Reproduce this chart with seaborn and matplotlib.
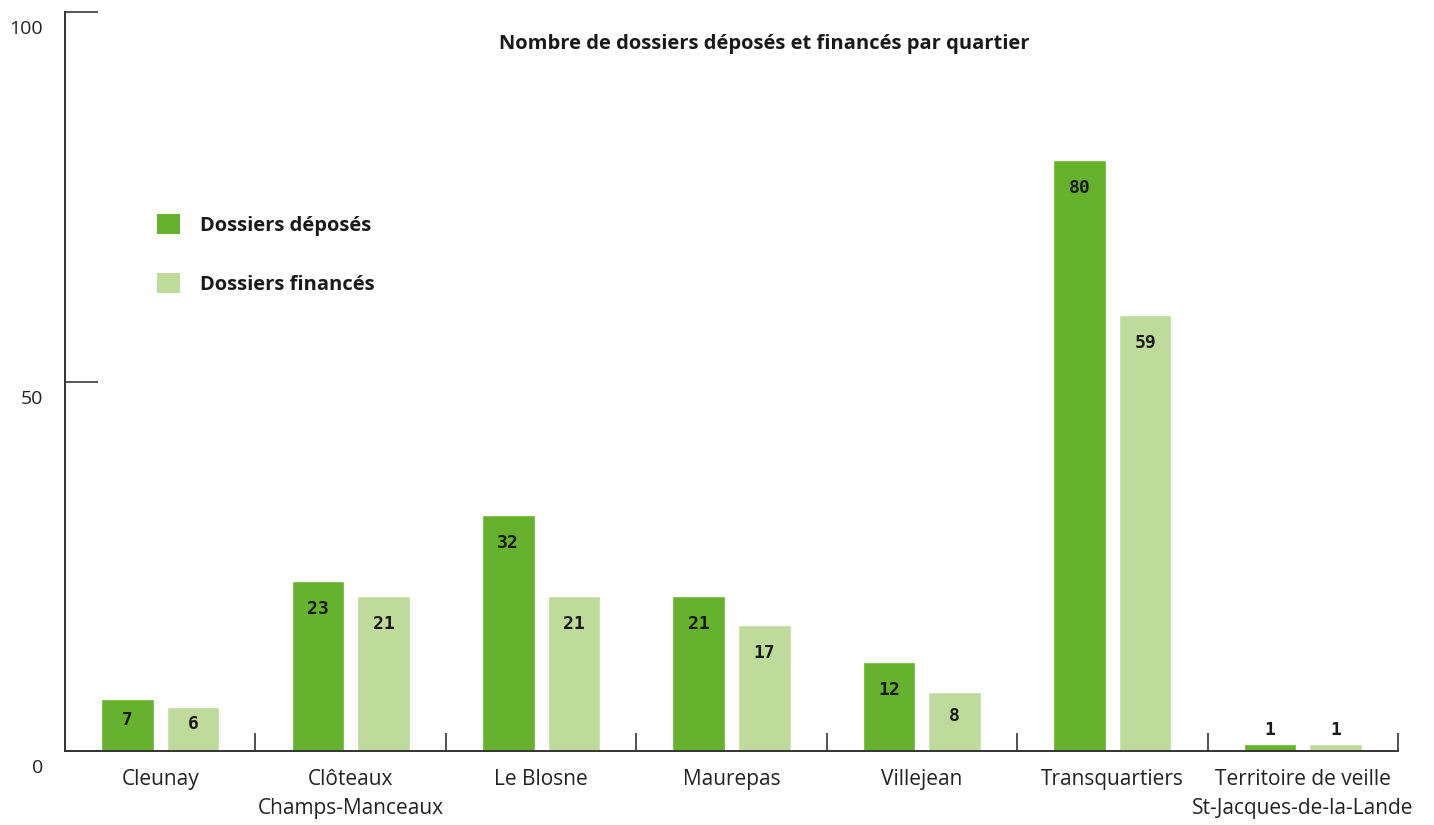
import pandas as pd
import matplotlib.pyplot as plt
import seaborn as sns
from matplotlib.patches import Patch

# data
quartiers = ["Cleunay", "Clôteaux\nChamps-Manceaux", "Le Blosne", "Maurepas",
             "Villejean", "Transquartiers", "Territoire de veille\nSt-Jacques-de-la-Lande"]
deposes = [7, 23, 32, 21, 12, 80, 1]
finances = [6, 21, 21, 17, 8, 59, 1]
series = ["Dossiers déposés", "Dossiers financés"]
couleurs = ["#66b22e", "#bedb9c"]
y_ticks = [0, 50, 100]

df = pd.DataFrame({
    "quartier": quartiers * 2,
    "serie": [series[0]] * len(quartiers) + [series[1]] * len(quartiers),
    "valeur": deposes + finances,
})

sns.set_style("white")
plt.rcParams["font.family"] = ["Open Sans", "DejaVu Sans"]

fig = plt.figure(figsize=(14.34, 8.25), dpi=100)
ax = fig.add_axes([65 / 1434, 74 / 825, (1398 - 65) / 1434, (751 - 12) / 825])

sns.barplot(data=df, x="quartier", y="valeur", hue="serie", palette=couleurs,
            width=0.69, gap=0.2, errorbar=None, saturation=1, ax=ax, legend=False)

ax.set_xlim(-0.5, len(quartiers) - 0.5)
ax.set_ylim(0, 100)
ax.set_xlabel("")
ax.set_ylabel("")

# value labels inside the bars (above when the bar is too small)
for container in ax.containers:
    for bar in container:
        v = bar.get_height()
        x = bar.get_x() + bar.get_width() / 2
        y = v + 1.8 if v < 3 else max(v - 3.8, v * 0.6)
        ax.text(x, y, f"{int(v)}", ha="center", va="center", fontsize=13,
                fontweight="bold", family="DejaVu Sans Mono", color="#1a1a1a")

# spines
sns.despine(ax=ax)
for s in ["left", "bottom"]:
    ax.spines[s].set_color("#333333")
    ax.spines[s].set_linewidth(1.4)

# y ticks: long inward marks, labels drawn below the marks
ax.set_yticks(y_ticks)
ax.set_yticklabels([])
ax.tick_params(axis="y", which="major", direction="in", length=24, width=1.4,
               color="#555555", left=True)
for v in y_ticks:
    ax.annotate(str(v), xy=(0, v), xycoords=("axes fraction", "data"),
                xytext=(-22, -17), textcoords="offset pixels", ha="right", va="center",
                fontsize=14, color="#222222")

# x ticks: no marks at centres, separators between the groups
ax.tick_params(axis="x", which="major", length=0, pad=13, labelsize=15, labelcolor="#222222")
ax.set_xticks([i + 0.5 for i in range(len(quartiers))], minor=True)
ax.tick_params(axis="x", which="minor", direction="in", length=13, width=1.2,
               color="#333333", bottom=True)
for lab in ax.get_xticklabels():
    lab.set_linespacing(1.5)

# legend
handles = [Patch(facecolor=c, edgecolor="none") for c in couleurs]
leg = ax.legend(handles, series, loc="upper left", bbox_to_anchor=(139 / 1434, 1 - 196 / 825),
                bbox_transform=fig.transFigure, frameon=False, fontsize=14.5,
                handlelength=1.15, handleheight=1.15, handletextpad=1.0, labelspacing=1.85)
for t in leg.get_texts():
    t.set_fontweight("bold")
    t.set_color("#1a1a1a")

fig.text(764.5 / 1434, 1 - 44 / 825, "Nombre de dossiers déposés et financés par quartier",
         ha="center", va="center", fontsize=14.5, fontweight="bold", color="#1a1a1a")

fig.savefig("out.png", dpi=100)
